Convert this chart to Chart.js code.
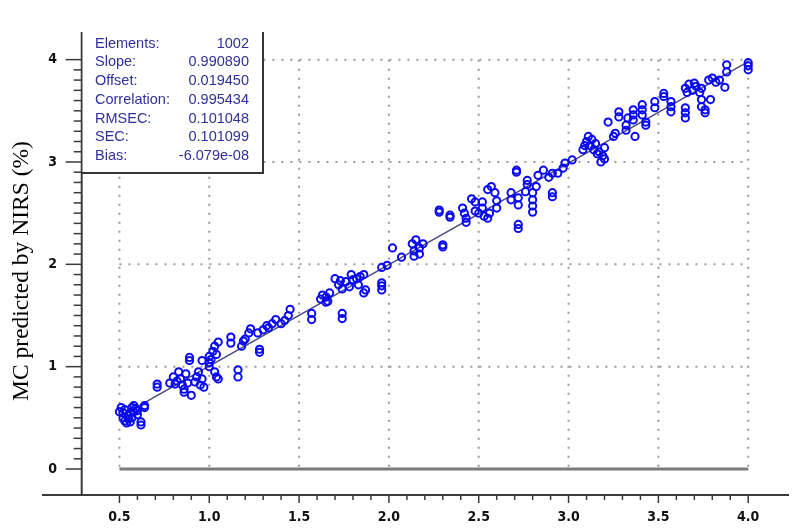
<!DOCTYPE html>
<html lang="en">
<head>
  <meta charset="UTF-8">
  <title>MC predicted by NIRS</title>
  <script src="https://cdn.jsdelivr.net/npm/chart.js"></script>
  <style>
    body {
      margin: 0;
      background-color: #ffffff;
    }
    canvas {
      display: block;
    }
  </style>
</head>
<body>
  <canvas id="nirsChart" width="795" height="530"></canvas>

  <script>
    // reference MC (%) and NIRS-predicted MC (%)
    const refMC = [
      0.50, 0.51, 0.52, 0.52, 0.53, 0.53, 0.54, 0.55, 0.55, 0.56, 0.57, 0.57, 0.58, 0.58, 0.59, 0.60, 0.60, 0.56, 0.62, 0.62, 0.64, 0.64,
      0.71, 0.71, 0.78, 0.80, 0.81, 0.82, 0.83, 0.84, 0.85, 0.86, 0.86, 0.87, 0.88, 0.89, 0.89, 0.90, 0.92, 0.93, 0.94, 0.95, 0.96, 0.97, 0.96,
      1.00, 1.00, 1.00, 1.01, 1.02, 1.03, 1.04, 1.05, 1.03, 1.04, 1.05, 1.12, 1.12, 1.16, 1.16, 1.18, 1.19, 1.20, 1.22, 1.23, 1.28, 1.28,
      1.27, 1.30, 1.32, 1.33, 1.35, 1.37, 1.40, 1.42, 1.44, 1.45, 1.57, 1.57,
      1.62, 1.63, 1.65, 1.65, 1.66, 1.67, 1.70, 1.72, 1.73, 1.74, 1.76, 1.78, 1.79, 1.80, 1.74, 1.74, 1.82, 1.83, 1.84, 1.86, 1.87, 1.86,
      1.96, 1.96, 1.96, 1.96, 1.99, 2.02, 2.07,
      2.13, 2.14, 2.14, 2.15, 2.17, 2.17, 2.19, 2.28, 2.28, 2.30, 2.30, 2.34, 2.34, 2.41, 2.42, 2.43, 2.43, 2.46, 2.48, 2.48, 2.50, 2.52,
      2.52, 2.53, 2.55, 2.56, 2.55, 2.57, 2.59, 2.60, 2.60, 2.68, 2.68, 2.72, 2.72, 2.72, 2.72, 2.71, 2.71, 2.76, 2.77, 2.77, 2.80, 2.82,
      2.80, 2.80, 2.80, 2.83, 2.86, 2.89, 2.91, 2.91, 2.91, 2.94, 2.97, 2.98, 3.02,
      3.08, 3.09, 3.10, 3.11, 3.12, 3.13, 3.14, 3.15, 3.16, 3.17, 3.18, 3.19, 3.20, 3.20, 3.22, 3.25, 3.26, 3.28, 3.28, 3.32, 3.32, 3.33,
      3.36, 3.36, 3.36, 3.37, 3.41, 3.41, 3.41, 3.43, 3.43, 3.48, 3.48, 3.53, 3.53, 3.57, 3.57, 3.57, 3.65, 3.65, 3.65, 3.65, 3.66, 3.67,
      3.69, 3.70, 3.71, 3.73, 3.74, 3.74, 3.74, 3.76, 3.76, 3.79, 3.78, 3.80, 3.82, 3.84, 3.87, 3.88, 3.88, 4.00, 4.00, 4.00
    ];
    const nirsMC = [
      0.56, 0.60, 0.55, 0.50, 0.58, 0.47, 0.45, 0.52, 0.49, 0.55, 0.60, 0.50, 0.56, 0.62, 0.59, 0.57, 0.53, 0.46, 0.46, 0.43, 0.62, 0.60,
      0.80, 0.83, 0.84, 0.90, 0.83, 0.86, 0.95, 0.88, 0.82, 0.78, 0.75, 0.93, 0.84, 1.06, 1.09, 0.72, 0.85, 0.90, 0.95, 0.82, 0.88, 0.80, 1.06,
      1.00, 1.04, 1.10, 1.07, 1.15, 1.20, 1.12, 1.24, 0.95, 0.90, 0.88, 1.23, 1.29, 0.90, 0.97, 1.20, 1.25, 1.27, 1.33, 1.37, 1.14, 1.17,
      1.33, 1.36, 1.40, 1.38, 1.42, 1.46, 1.42, 1.45, 1.50, 1.56, 1.46, 1.52,
      1.66, 1.70, 1.68, 1.63, 1.64, 1.72, 1.86, 1.80, 1.84, 1.76, 1.83, 1.78, 1.90, 1.85, 1.47, 1.52, 1.86, 1.80, 1.88, 1.90, 1.75, 1.72,
      1.75, 1.79, 1.82, 1.97, 1.99, 2.16, 2.07,
      2.20, 2.13, 2.08, 2.24, 2.16, 2.10, 2.20, 2.53, 2.51, 2.19, 2.17, 2.48, 2.46, 2.55, 2.50, 2.45, 2.41, 2.64, 2.61, 2.52, 2.50, 2.55,
      2.61, 2.47, 2.45, 2.50, 2.73, 2.76, 2.70, 2.62, 2.55, 2.63, 2.70, 2.58, 2.65, 2.35, 2.39, 2.90, 2.92, 2.71, 2.78, 2.82, 2.70, 2.76,
      2.51, 2.57, 2.63, 2.87, 2.92, 2.85, 2.89, 2.66, 2.70, 2.89, 2.94, 2.99, 3.02,
      3.12, 3.16, 3.20, 3.25, 3.16, 3.22, 3.12, 3.18, 3.08, 3.10, 3.00, 3.06, 3.03, 3.14, 3.39, 3.25, 3.28, 3.44, 3.49, 3.31, 3.36, 3.43,
      3.41, 3.46, 3.51, 3.25, 3.46, 3.51, 3.56, 3.36, 3.39, 3.53, 3.59, 3.67, 3.64, 3.49, 3.54, 3.59, 3.43, 3.48, 3.53, 3.72, 3.68, 3.76,
      3.70, 3.77, 3.74, 3.68, 3.72, 3.54, 3.61, 3.48, 3.51, 3.61, 3.80, 3.82, 3.78, 3.80, 3.73, 3.88, 3.95, 3.90, 3.94, 3.97
    ];

    // fitted line end points and zero line
    const fitX = [0.5, 4.0];
    const fitY = [0.51, 3.98];
    const zeroX = [0.5, 4.0];
    const zeroY = [0, 0];

    const xTicks = [0.5, 1.0, 1.5, 2.0, 2.5, 3.0, 3.5, 4.0];
    const yTicks = [0, 1, 2, 3, 4];

    const statLabels = ['Elements:', 'Slope:', 'Offset:', 'Correlation:', 'RMSEC:', 'SEC:', 'Bias:'];
    const statValues = ['1002', '0.990890', '0.019450', '0.995434', '0.101048', '0.101099', '-6.079e-08'];

    const yAxisAt = 0.29; // x value where the vertical axis sits

    const points = refMC.map((x, i) => ({ x: x, y: nirsMC[i] }));
    const fitLine = fitX.map((x, i) => ({ x: x, y: fitY[i] }));
    const zeroLine = zeroX.map((x, i) => ({ x: x, y: zeroY[i] }));

    const tickFont = 'bold 14px "Liberation Sans Narrow", "DejaVu Sans Condensed", sans-serif';

    // dotted grid, drawn under the points
    const gridPlugin = {
      id: 'grid',
      beforeDatasetsDraw(chart) {
        const { ctx, scales: { x, y } } = chart;
        ctx.save();
        ctx.strokeStyle = '#9a9a9a';
        ctx.lineWidth = 2;
        ctx.setLineDash([2, 7]);
        xTicks.forEach(v => {
          ctx.beginPath();
          ctx.moveTo(x.getPixelForValue(v), y.getPixelForValue(4));
          ctx.lineTo(x.getPixelForValue(v), y.getPixelForValue(0));
          ctx.stroke();
        });
        yTicks.slice(1).forEach(v => {
          ctx.beginPath();
          ctx.moveTo(x.getPixelForValue(0.5), y.getPixelForValue(v));
          ctx.lineTo(x.getPixelForValue(4.0), y.getPixelForValue(v));
          ctx.stroke();
        });
        ctx.restore();
      }
    };

    // axes, ticks, labels and the statistics box
    const axesPlugin = {
      id: 'axes',
      afterDatasetsDraw(chart) {
        const { ctx, chartArea, scales: { x, y } } = chart;
        const axisX = x.getPixelForValue(yAxisAt);
        ctx.save();
        ctx.strokeStyle = '#3a3a3a';
        ctx.lineWidth = 2;

        // axis lines
        ctx.beginPath();
        ctx.moveTo(chartArea.left, chartArea.bottom);
        ctx.lineTo(chartArea.right, chartArea.bottom);
        ctx.moveTo(axisX, chartArea.top);
        ctx.lineTo(axisX, chartArea.bottom);
        ctx.stroke();

        // minor + major ticks, every 0.1
        ctx.lineWidth = 1.5;
        for (let i = 5; i <= 40; i++) {
          const px = x.getPixelForValue(i / 10);
          const len = i % 5 === 0 ? 8 : 5;
          ctx.beginPath();
          ctx.moveTo(px, chartArea.bottom);
          ctx.lineTo(px, chartArea.bottom + len);
          ctx.stroke();
        }
        for (let i = 0; i <= 40; i++) {
          const py = y.getPixelForValue(i / 10);
          const len = i % 10 === 0 ? 16 : 8;
          ctx.beginPath();
          ctx.moveTo(axisX - len, py);
          ctx.lineTo(axisX, py);
          ctx.stroke();
        }

        // tick labels
        ctx.fillStyle = '#111111';
        ctx.font = tickFont;
        ctx.textAlign = 'center';
        ctx.textBaseline = 'middle';
        xTicks.forEach(v => {
          ctx.fillText(v.toFixed(1), x.getPixelForValue(v), chartArea.bottom + 22);
        });
        yTicks.forEach(v => {
          ctx.fillText(String(v), axisX - 29, y.getPixelForValue(v));
        });

        // y title
        ctx.save();
        ctx.translate(22, 271);
        ctx.rotate(-Math.PI / 2);
        ctx.font = '23.5px "Liberation Serif", "DejaVu Serif", serif';
        ctx.fillStyle = '#000000';
        ctx.fillText('MC predicted by NIRS (%)', 0, 0);
        ctx.restore();

        // statistics box
        const boxL = axisX, boxT = chartArea.top, boxR = 263, boxB = 173;
        ctx.fillStyle = '#ffffff';
        ctx.fillRect(boxL + 1, boxT, boxR - boxL - 1, boxB - boxT);
        ctx.strokeStyle = '#333333';
        ctx.lineWidth = 2;
        ctx.beginPath();
        ctx.moveTo(boxR, boxT);
        ctx.lineTo(boxR, boxB);
        ctx.lineTo(boxL, boxB);
        ctx.stroke();

        ctx.font = '14.5px "Liberation Sans", Arial, sans-serif';
        ctx.fillStyle = '#30309c';
        const rowY = [44, 62, 81, 100, 119, 137, 156];
        statLabels.forEach((label, i) => {
          ctx.textAlign = 'left';
          ctx.fillText(label, 95, rowY[i]);
          ctx.textAlign = 'right';
          ctx.fillText(statValues[i], 249, rowY[i]);
        });
        ctx.restore();
      }
    };

    const ctx = document.getElementById('nirsChart').getContext('2d');
    const chart = new Chart(ctx, {
      type: 'scatter',
      data: {
        datasets: [
          {
            data: zeroLine,
            type: 'line',
            borderColor: '#7b7b7b',
            borderWidth: 3,
            pointRadius: 0
          },
          {
            data: points,
            pointStyle: 'circle',
            pointRadius: 3.6,
            pointBorderWidth: 2,
            borderColor: '#0a0af0',
            backgroundColor: 'rgba(0,0,0,0)'
          },
          {
            data: fitLine,
            type: 'line',
            borderColor: '#4a4a7e',
            borderWidth: 1.5,
            pointRadius: 0
          }
        ]
      },
      options: {
        responsive: false,
        animation: false,
        layout: {
          padding: { left: 42, right: 0, top: 32, bottom: 35 }
        },
        scales: {
          x: { type: 'linear', min: 0.069, max: 4.227, display: false },
          y: { type: 'linear', min: -0.254, max: 4.27, display: false }
        },
        plugins: {
          legend: { display: false },
          tooltip: { enabled: false }
        }
      },
      plugins: [gridPlugin, axesPlugin]
    });
  </script>
</body>
</html>
